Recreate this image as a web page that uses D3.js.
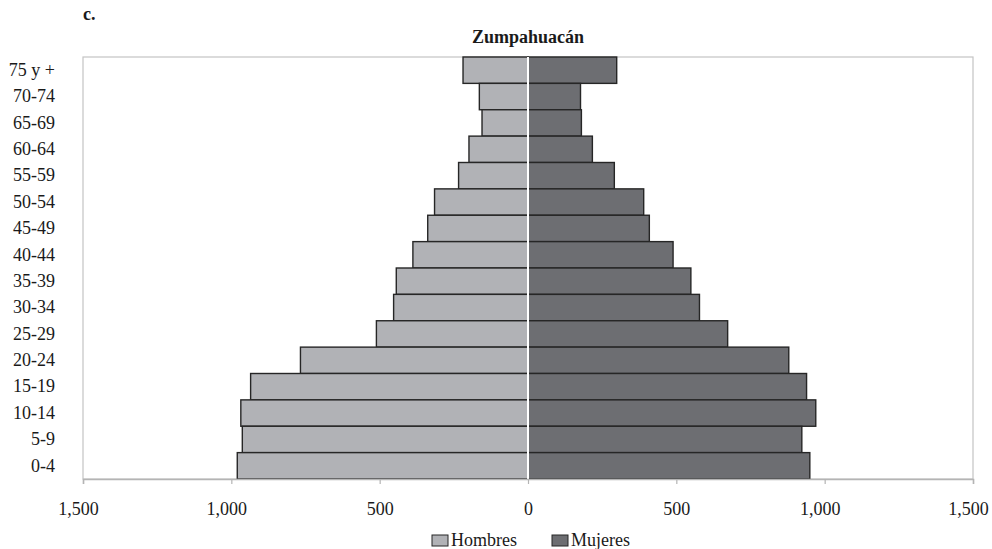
<!DOCTYPE html>
<html>
<head>
<meta charset="utf-8">
<script src="https://cdn.jsdelivr.net/npm/d3@7"></script>
<style>
  html, body { margin: 0; padding: 0; background: #fff; }
  svg { display: block; }
</style>
</head>
<body>
<svg id="chart" width="992" height="549"></svg>
<script>
// Age groups, top to bottom
const ageGroups = ["75 y +", "70-74", "65-69", "60-64", "55-59", "50-54", "45-49", "40-44",
                   "35-39", "30-34", "25-29", "20-24", "15-19", "10-14", "5-9", "0-4"];
// Population by age group
const hombres = [219, 164, 155, 199, 234, 315, 338, 388, 444, 453, 511, 767, 935, 968, 963, 980];
const mujeres = [299, 177, 180, 217, 291, 390, 409, 489, 549, 578, 673, 879, 939, 970, 923, 950];
const tickValues = [-1500, -1000, -500, 0, 500, 1000, 1500];
const seriesNames = ["Hombres", "Mujeres"];
const seriesColors = ["#b1b2b6", "#6d6e72"];

const FONT = "Liberation Serif, Tinos, Times New Roman, Times, DejaVu Serif, Noto Serif, serif";
const svg = d3.select("#chart").attr("font-family", FONT);
const m = { left: 83, right: 973, top: 57, bottom: 479 };

const x = d3.scaleLinear().domain([-1500, 1500]).range([m.left, m.right]);
const y = d3.scaleBand().domain(ageGroups).range([m.top, m.bottom]).paddingInner(0).paddingOuter(0);

// Panel letter and title
svg.append("text").attr("x", 83).attr("y", 20)
  .attr("font-family", FONT).attr("font-size", 18).attr("font-weight", "bold")
  .attr("fill", "#1a1a1a").text("c.");
svg.append("text").attr("x", x(0)).attr("y", 43).attr("text-anchor", "middle")
  .attr("font-family", FONT).attr("font-size", 18).attr("font-weight", "bold")
  .attr("fill", "#1a1a1a").text("Zumpahuacán");

// Plot frame
svg.append("rect").attr("x", m.left).attr("y", m.top)
  .attr("width", m.right - m.left).attr("height", m.bottom - m.top)
  .attr("fill", "none").attr("stroke", "#c4c4c4").attr("stroke-width", 1.2);

// Bars
const bars = svg.append("g");
bars.selectAll("rect.h").data(ageGroups).join("rect").attr("class", "h")
  .attr("x", (d, i) => x(-hombres[i]))
  .attr("y", d => y(d))
  .attr("width", (d, i) => x(0) - x(-hombres[i]))
  .attr("height", y.bandwidth())
  .attr("fill", seriesColors[0]).attr("stroke", "#262626").attr("stroke-width", 1.4);
bars.selectAll("rect.m").data(ageGroups).join("rect").attr("class", "m")
  .attr("x", x(0))
  .attr("y", d => y(d))
  .attr("width", (d, i) => x(mujeres[i]) - x(0))
  .attr("height", y.bandwidth())
  .attr("fill", seriesColors[1]).attr("stroke", "#262626").attr("stroke-width", 1.4);

// White centre divider
svg.append("line").attr("x1", x(0)).attr("x2", x(0))
  .attr("y1", m.top).attr("y2", m.bottom)
  .attr("stroke", "#fff").attr("stroke-width", 2);

// Bottom axis
const fmt = d3.format(",");
const xAxis = d3.axisBottom(x).tickValues(tickValues).tickSize(5).tickPadding(18)
  .tickFormat(d => fmt(Math.abs(d)));
const gx = svg.append("g").attr("transform", `translate(0,${m.bottom})`).call(xAxis)
  .attr("font-family", FONT);
gx.select(".domain").attr("stroke", "#b4b4b4").attr("stroke-width", 1.5);
gx.selectAll(".tick line").attr("stroke", "#b4b4b4").attr("stroke-width", 1.2);
gx.selectAll(".tick text").attr("font-family", FONT).attr("font-size", 18).attr("fill", "#1a1a1a")
  .attr("dx", d => Math.abs(d) >= 1000 ? -5 : 0);

// Left category labels
const yAxis = d3.axisLeft(y).tickSize(0).tickPadding(28);
const gy = svg.append("g").attr("transform", `translate(${m.left},0)`).call(yAxis)
  .attr("font-family", FONT);
gy.select(".domain").remove();
gy.selectAll(".tick text").attr("font-family", FONT).attr("font-size", 18).attr("fill", "#1a1a1a");

// Legend
const legendX = [432, 552];
const legend = svg.append("g");
seriesNames.forEach((name, i) => {
  legend.append("rect").attr("x", legendX[i]).attr("y", 535)
    .attr("width", 16).attr("height", 11)
    .attr("fill", seriesColors[i]).attr("stroke", "#262626").attr("stroke-width", 1);
  legend.append("text").attr("x", legendX[i] + 19).attr("y", 546)
    .attr("font-family", FONT).attr("font-size", 18).attr("fill", "#1a1a1a").text(name);
});
</script>
</body>
</html>
